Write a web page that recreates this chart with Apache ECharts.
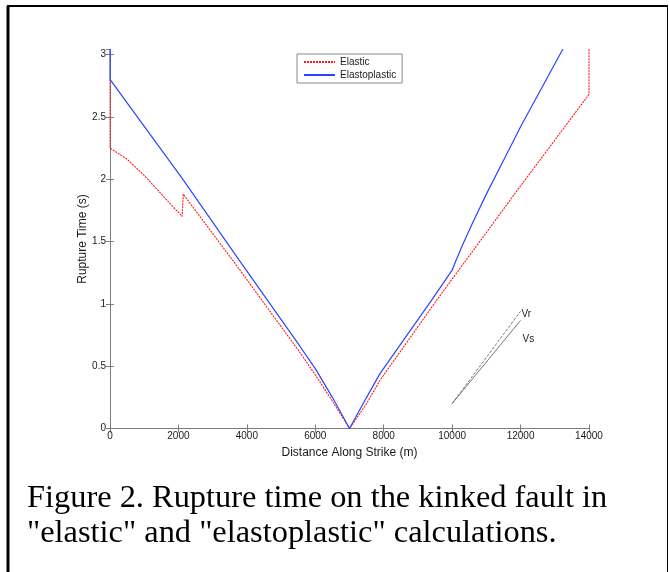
<!DOCTYPE html>
<html>
<head>
<meta charset="utf-8">
<script src="https://cdn.jsdelivr.net/npm/echarts@6/dist/echarts.min.js"></script>
<style>
html,body{margin:0;padding:0;background:#fff;}
#chart{width:669px;height:572px;}
</style>
</head>
<body>
<div id="chart"></div>
<script>
// rupture time (s) vs distance along strike (m)
const elastic = [
  [0,2.8],[0,2.25],[500,2.16],[1000,2.03],[1500,1.88],[2110,1.70],[2140,1.88],
  [3800,1.27],[5550,0.61],[6000,0.43],[6500,0.22],[7000,0],[7500,0.2],[7900,0.39],
  [9550,1.03],[11930,1.92],[14000,2.68],[14000,3.1]
]
const elastoplastic = [
  [0,3.1],[0,2.8],[2125,2.0],[3800,1.34],[5550,0.66],[6000,0.48],[6500,0.25],[7000,0],
  [7500,0.25],[7890,0.44],[9400,1.03],[10000,1.27],[10100,1.34],[10300,1.47],
  [10600,1.65],[11000,1.88],[11500,2.15],[12000,2.42],[13230,3.04],[13400,3.13]
]
// reference slopes
const vrLine = [[10000,0.2],[12000,0.94]]
const vsLine = [[10000,0.2],[12000,0.867]]

const axisGray = '#7c7c7c'
const txt = '#1a1a1a'
const sans = '"Liberation Sans", Arial, sans-serif'
const serif = '"Liberation Serif", "Times New Roman", serif'

const chart = echarts.init(document.getElementById('chart'))

const xBase = {
  type:'value', min:0, max:14000, interval:2000,
  axisLine:{lineStyle:{color:axisGray}},
  axisTick:{inside:true, length:4, lineStyle:{color:axisGray}},
  splitLine:{show:false}
}
const yBase = {
  type:'value', min:0, max:3.04, interval:0.5,
  axisLine:{show:true, lineStyle:{color:axisGray}},
  axisTick:{inside:true, length:4, lineStyle:{color:axisGray}},
  splitLine:{show:false}
}

const option = {
  animation:false,
  grid:{left:110, right:80, top:49.5, bottom:143.5},
  legend:{
    data:['Elastic','Elastoplastic'],
    orient:'vertical',
    left:297, top:54,
    padding:[3,6,3,6],
    itemWidth:31, itemHeight:8, itemGap:3,
    borderColor:'#888', borderWidth:1,
    backgroundColor:'#fff',
    itemStyle:{opacity:0},
    textStyle:{fontSize:10, color:txt, fontFamily:sans}
  },
  xAxis:[
    Object.assign({}, xBase, {
      position:'bottom',
      axisLabel:{color:txt, fontSize:10, margin:3, fontFamily:sans, formatter:v => String(v)},
      name:'Distance Along Strike (m)', nameLocation:'middle', nameGap:17,
      nameTextStyle:{fontSize:12, color:txt, fontFamily:sans}
    }),
    Object.assign({}, xBase, {position:'top', axisLabel:{show:false}})
  ],
  yAxis:[
    Object.assign({}, yBase, {
      position:'left',
      axisLabel:{color:txt, fontSize:10, margin:4, showMaxLabel:false, fontFamily:sans},
      name:'Rupture Time (s)', nameLocation:'middle', nameGap:21, nameMoveOverlap:false,
      nameTextStyle:{fontSize:12, color:txt, fontFamily:sans}
    }),
    Object.assign({}, yBase, {position:'right', axisLabel:{show:false}})
  ],
  series:[
    {
      name:'Elastic', type:'line', data:elastic, symbol:'none',
      lineStyle:{color:'#ff1a1a', width:1.1, type:[2,1]},
      itemStyle:{color:'#ff1a1a'}
    },
    {
      name:'Elastoplastic', type:'line', data:elastoplastic, symbol:'none',
      lineStyle:{color:'#2a45ff', width:1.2},
      itemStyle:{color:'#2a45ff'}
    },
    {
      name:'Vr', type:'line', data:vrLine, symbol:'none', silent:true,
      lineStyle:{color:'#555', width:0.8, type:[3,1.5]},
      endLabel:{show:true, formatter:'Vr', color:txt, fontSize:10, fontFamily:sans, distance:1, offset:[0,3]}
    },
    {
      name:'Vs', type:'line', data:vsLine, symbol:'none', silent:true,
      lineStyle:{color:'#555', width:0.8},
      endLabel:{show:true, formatter:'Vs', color:txt, fontSize:10, fontFamily:sans, distance:2, offset:[0,19]}
    }
  ],
  graphic:[
    // figure frame
    {type:'line', shape:{x1:8, y1:6, x2:8, y2:572}, style:{stroke:'#000', lineWidth:3}},
    {type:'line', shape:{x1:7, y1:6, x2:668, y2:6}, style:{stroke:'#000', lineWidth:2}},
    {type:'line', shape:{x1:667.5, y1:6, x2:667.5, y2:572}, style:{stroke:'#000', lineWidth:1}},
    // caption
    {type:'text', x:27, y:482, style:{text:'Figure 2. Rupture time on the kinked fault in', font:'32.4px ' + serif, fill:'#000'}},
    {type:'text', x:27, y:517, style:{text:'"elastic" and "elastoplastic" calculations.', font:'32.4px ' + serif, fill:'#000'}}
  ]
}
chart.setOption(option)
</script>
</body>
</html>
